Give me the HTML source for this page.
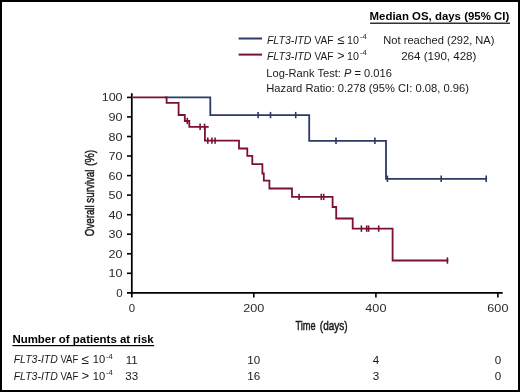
<!DOCTYPE html>
<html><head><meta charset="utf-8"><style>
html,body{margin:0;padding:0;background:#fff;}
#fig{position:relative;width:520px;height:392px;box-sizing:border-box;border:2px solid #000;background:#fff;overflow:hidden;}
svg{position:absolute;left:-2px;top:-2px;will-change:transform;}
text{font-family:"Liberation Sans",sans-serif;fill:#1a1a1a;}
.ax{font-size:11.4px;fill:#2a2a2a;}
.lg{font-size:11px;}
.rk{font-size:11.6px;}
.hdr{font-size:11px;font-weight:bold;fill:#000;}
.cond{font-size:13px;stroke:#1a1a1a;stroke-width:0.5px;}
</style></head><body>
<div id="fig"><svg width="520" height="392" viewBox="0 0 520 392">
<line x1="131.8" y1="93.2" x2="131.8" y2="297.4" stroke="#000" stroke-width="1.75"/>
<line x1="127" y1="292.9" x2="502.7" y2="292.9" stroke="#000" stroke-width="1.75"/>
<line x1="127" y1="273.3" x2="131.8" y2="273.3" stroke="#000" stroke-width="1.6"/>
<line x1="127" y1="253.8" x2="131.8" y2="253.8" stroke="#000" stroke-width="1.6"/>
<line x1="127" y1="234.2" x2="131.8" y2="234.2" stroke="#000" stroke-width="1.6"/>
<line x1="127" y1="214.7" x2="131.8" y2="214.7" stroke="#000" stroke-width="1.6"/>
<line x1="127" y1="195.1" x2="131.8" y2="195.1" stroke="#000" stroke-width="1.6"/>
<line x1="127" y1="175.6" x2="131.8" y2="175.6" stroke="#000" stroke-width="1.6"/>
<line x1="127" y1="156.0" x2="131.8" y2="156.0" stroke="#000" stroke-width="1.6"/>
<line x1="127" y1="136.5" x2="131.8" y2="136.5" stroke="#000" stroke-width="1.6"/>
<line x1="127" y1="116.9" x2="131.8" y2="116.9" stroke="#000" stroke-width="1.6"/>
<line x1="127" y1="97.4" x2="131.8" y2="97.4" stroke="#000" stroke-width="1.6"/>
<line x1="253.8" y1="292.9" x2="253.8" y2="297.4" stroke="#000" stroke-width="1.6"/>
<line x1="375.9" y1="292.9" x2="375.9" y2="297.4" stroke="#000" stroke-width="1.6"/>
<line x1="497.9" y1="292.9" x2="497.9" y2="297.4" stroke="#000" stroke-width="1.6"/>
<text x="122.6" y="296.9" text-anchor="end" class="ax">0</text>
<text x="122.6" y="277.3" text-anchor="end" class="ax" textLength="14.0" lengthAdjust="spacingAndGlyphs">10</text>
<text x="122.6" y="257.8" text-anchor="end" class="ax" textLength="14.0" lengthAdjust="spacingAndGlyphs">20</text>
<text x="122.6" y="238.2" text-anchor="end" class="ax" textLength="14.0" lengthAdjust="spacingAndGlyphs">30</text>
<text x="122.6" y="218.7" text-anchor="end" class="ax" textLength="14.0" lengthAdjust="spacingAndGlyphs">40</text>
<text x="122.6" y="199.1" text-anchor="end" class="ax" textLength="14.0" lengthAdjust="spacingAndGlyphs">50</text>
<text x="122.6" y="179.6" text-anchor="end" class="ax" textLength="14.0" lengthAdjust="spacingAndGlyphs">60</text>
<text x="122.6" y="160.0" text-anchor="end" class="ax" textLength="14.0" lengthAdjust="spacingAndGlyphs">70</text>
<text x="122.6" y="140.5" text-anchor="end" class="ax" textLength="14.0" lengthAdjust="spacingAndGlyphs">80</text>
<text x="122.6" y="120.9" text-anchor="end" class="ax" textLength="14.0" lengthAdjust="spacingAndGlyphs">90</text>
<text x="122.6" y="101.4" text-anchor="end" class="ax" textLength="20.9" lengthAdjust="spacingAndGlyphs">100</text>
<text x="131.8" y="311.5" text-anchor="middle" class="ax">0</text>
<text x="253.8" y="311.5" text-anchor="middle" class="ax" textLength="21.1" lengthAdjust="spacingAndGlyphs">200</text>
<text x="375.9" y="311.5" text-anchor="middle" class="ax" textLength="21.1" lengthAdjust="spacingAndGlyphs">400</text>
<text x="497.9" y="311.5" text-anchor="middle" class="ax" textLength="21.1" lengthAdjust="spacingAndGlyphs">600</text>
<polyline points="166.0,97.4 210.3,97.4 210.3,115.1 309.2,115.1 309.2,140.8 386.0,140.8 386.0,178.8 486.2,178.8" fill="none" stroke="#2b3a66" stroke-width="1.8" stroke-linejoin="miter" stroke-linecap="square"/>
<line x1="258.1" y1="111.9" x2="258.1" y2="118.3" stroke="#2b3a66" stroke-width="1.6"/><line x1="270.5" y1="111.9" x2="270.5" y2="118.3" stroke="#2b3a66" stroke-width="1.6"/><line x1="295.7" y1="111.9" x2="295.7" y2="118.3" stroke="#2b3a66" stroke-width="1.6"/><line x1="336.0" y1="137.6" x2="336.0" y2="144.0" stroke="#2b3a66" stroke-width="1.6"/><line x1="374.9" y1="137.6" x2="374.9" y2="144.0" stroke="#2b3a66" stroke-width="1.6"/><line x1="387.4" y1="175.6" x2="387.4" y2="182.0" stroke="#2b3a66" stroke-width="1.6"/><line x1="441.2" y1="175.6" x2="441.2" y2="182.0" stroke="#2b3a66" stroke-width="1.6"/><line x1="486.2" y1="175.6" x2="486.2" y2="182.0" stroke="#2b3a66" stroke-width="1.6"/>
<polyline points="133.6,97.4 166.6,97.4 166.6,102.9 178.6,102.9 178.6,115.0 184.8,115.0 184.8,121.0 189.3,121.0 189.3,126.8 207.8,126.8" fill="none" stroke="#7c1030" stroke-width="1.8" stroke-linecap="square"/>
<polyline points="204.9,126.8 204.9,140.6 239.0,140.6 239.0,148.5 247.3,148.5 247.3,155.8 252.3,155.8 252.3,164.1 262.4,164.1 262.4,173.5 263.8,173.5 263.8,180.6 269.4,180.6 269.4,188.5 292.0,188.5 292.0,196.9 332.6,196.9 332.6,207.0 336.2,207.0 336.2,218.5 352.7,218.5 352.7,228.6 392.6,228.6 392.6,260.5 447.4,260.5" fill="none" stroke="#7c1030" stroke-width="1.8" stroke-linecap="square"/>
<line x1="187.3" y1="117.8" x2="187.3" y2="124.2" stroke="#7c1030" stroke-width="1.6"/><line x1="200.1" y1="123.6" x2="200.1" y2="130.0" stroke="#7c1030" stroke-width="1.6"/><line x1="204.6" y1="123.6" x2="204.6" y2="130.0" stroke="#7c1030" stroke-width="1.6"/><line x1="207.8" y1="137.4" x2="207.8" y2="143.8" stroke="#7c1030" stroke-width="1.6"/><line x1="211.9" y1="137.4" x2="211.9" y2="143.8" stroke="#7c1030" stroke-width="1.6"/><line x1="215.1" y1="137.4" x2="215.1" y2="143.8" stroke="#7c1030" stroke-width="1.6"/><line x1="299.1" y1="193.7" x2="299.1" y2="200.1" stroke="#7c1030" stroke-width="1.6"/><line x1="321.3" y1="193.7" x2="321.3" y2="200.1" stroke="#7c1030" stroke-width="1.6"/><line x1="323.7" y1="193.7" x2="323.7" y2="200.1" stroke="#7c1030" stroke-width="1.6"/><line x1="361.4" y1="225.4" x2="361.4" y2="231.8" stroke="#7c1030" stroke-width="1.6"/><line x1="366.7" y1="225.4" x2="366.7" y2="231.8" stroke="#7c1030" stroke-width="1.6"/><line x1="368.6" y1="225.4" x2="368.6" y2="231.8" stroke="#7c1030" stroke-width="1.6"/><line x1="378.7" y1="225.4" x2="378.7" y2="231.8" stroke="#7c1030" stroke-width="1.6"/><line x1="447.4" y1="257.3" x2="447.4" y2="263.7" stroke="#7c1030" stroke-width="1.6"/>
<text x="295.4" y="330.1" class="cond" style="font-size:13.6px" textLength="20.2" lengthAdjust="spacingAndGlyphs">Time</text>
<text x="319.8" y="330.1" class="cond" style="font-size:13.6px" textLength="27.8" lengthAdjust="spacingAndGlyphs">(days)</text>
<text transform="translate(93.9,236.2) rotate(-90)" x="0" y="0" class="cond" style="font-size:13.6px" textLength="66.6" lengthAdjust="spacingAndGlyphs">Overall survival</text>
<text transform="translate(93.9,166.0) rotate(-90)" x="0" y="0" class="cond" style="font-size:13.6px" textLength="16.2" lengthAdjust="spacingAndGlyphs">(%)</text>
<text x="369.6" y="20.4" class="hdr" style="font-size:10.7px" textLength="139.6" lengthAdjust="spacingAndGlyphs">Median OS, days (95% CI)</text>
<rect x="370" y="22.6" width="140" height="1.2" fill="#000"/>
<line x1="238.6" y1="38.5" x2="262.1" y2="38.5" stroke="#2b3a66" stroke-width="2"/>
<line x1="238.6" y1="54.6" x2="262.1" y2="54.6" stroke="#7c1030" stroke-width="2"/>
<text x="266.9" y="43.7" class="lg" font-style="italic" textLength="44.6" lengthAdjust="spacingAndGlyphs">FLT3-ITD</text><text x="314.6" y="43.7" class="lg" textLength="18.9" lengthAdjust="spacingAndGlyphs">VAF</text><text x="337.3" y="44.2" class="lg" style="font-size:13px">≤</text><text x="347.0" y="43.7" class="lg" textLength="11.8" lengthAdjust="spacingAndGlyphs">10</text><text x="360.0" y="39.1" class="lg" style="font-size:7.6px">-4</text>
<text x="266.9" y="59.6" class="lg" font-style="italic" textLength="44.6" lengthAdjust="spacingAndGlyphs">FLT3-ITD</text><text x="314.6" y="59.6" class="lg" textLength="18.9" lengthAdjust="spacingAndGlyphs">VAF</text><text x="337.3" y="60.1" class="lg" style="font-size:12.5px">&gt;</text><text x="347.0" y="59.6" class="lg" textLength="11.8" lengthAdjust="spacingAndGlyphs">10</text><text x="360.0" y="55.0" class="lg" style="font-size:7.6px">-4</text>
<text x="383.3" y="43.7" class="lg" textLength="111.2" lengthAdjust="spacingAndGlyphs">Not reached (292, NA)</text>
<text x="401.2" y="59.7" class="lg" textLength="75.2" lengthAdjust="spacingAndGlyphs">264 (190, 428)</text>
<text x="266.3" y="76.9" class="lg" textLength="125.6" lengthAdjust="spacingAndGlyphs">Log-Rank Test: <tspan font-style="italic">P</tspan> = 0.016</text>
<text x="266.3" y="92.4" class="lg" textLength="202.6" lengthAdjust="spacingAndGlyphs">Hazard Ratio: 0.278 (95% CI: 0.08, 0.96)</text>
<text x="12.4" y="342.9" class="hdr" textLength="141.3" lengthAdjust="spacingAndGlyphs">Number of patients at risk</text>
<rect x="12.4" y="345.0" width="141.8" height="1.2" fill="#000"/>
<text x="13.7" y="363.3" class="lg" font-style="italic" textLength="44.2" lengthAdjust="spacingAndGlyphs">FLT3-ITD</text><text x="60.4" y="363.3" class="lg" textLength="17.9" lengthAdjust="spacingAndGlyphs">VAF</text><text x="81.4" y="363.8" class="lg" style="font-size:13.5px">≤</text><text x="92.8" y="363.3" class="lg" textLength="12.4" lengthAdjust="spacingAndGlyphs">10</text><text x="105.9" y="358.7" class="lg" style="font-size:7.6px">-4</text>
<text x="13.7" y="379.8" class="lg" font-style="italic" textLength="44.2" lengthAdjust="spacingAndGlyphs">FLT3-ITD</text><text x="60.4" y="379.8" class="lg" textLength="17.9" lengthAdjust="spacingAndGlyphs">VAF</text><text x="81.4" y="380.3" class="lg" style="font-size:13px">&gt;</text><text x="92.8" y="379.8" class="lg" textLength="12.4" lengthAdjust="spacingAndGlyphs">10</text><text x="105.9" y="375.2" class="lg" style="font-size:7.6px">-4</text>
<text x="131.8" y="363.7" text-anchor="middle" class="rk">11</text>
<text x="131.8" y="380.2" text-anchor="middle" class="rk">33</text>
<text x="253.8" y="363.7" text-anchor="middle" class="rk">10</text>
<text x="253.8" y="380.2" text-anchor="middle" class="rk">16</text>
<text x="375.9" y="363.7" text-anchor="middle" class="rk">4</text>
<text x="375.9" y="380.2" text-anchor="middle" class="rk">3</text>
<text x="497.9" y="363.7" text-anchor="middle" class="rk">0</text>
<text x="497.9" y="380.2" text-anchor="middle" class="rk">0</text>
</svg></div>
</body></html>
